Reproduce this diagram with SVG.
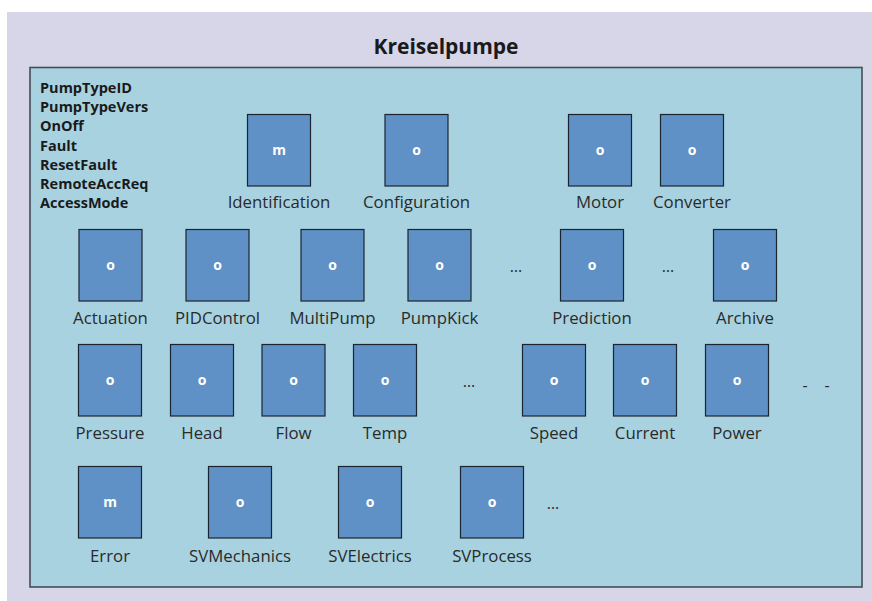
<svg xmlns="http://www.w3.org/2000/svg" width="872" height="601" viewBox="0 0 872 601">
<style>
.box{fill:#5f91c6;stroke:#1c2430;stroke-width:1.2}
.ltr{font-family:"Open Sans","Liberation Sans",sans-serif;font-weight:bold;font-size:14px;fill:#ffffff;text-anchor:middle}
.lbl{font-family:"Open Sans","Liberation Sans",sans-serif;font-size:16.8px;fill:#2a2a2a;text-anchor:middle}
.attr{font-family:"Open Sans","Liberation Sans",sans-serif;font-weight:bold;font-size:14.5px;fill:#1a1a1a}
.dots{font-family:"Open Sans","Liberation Sans",sans-serif;font-size:16px;fill:#2a2a2a;text-anchor:middle}
</style>
<rect x="0" y="0" width="872" height="601" fill="#ffffff"/>
<rect x="7" y="12" width="865" height="589" fill="#d7d5e8"/>
<text x="446" y="54" font-family="'Open Sans','Liberation Sans',sans-serif" font-weight="bold" font-size="21" fill="#1a1a1a" text-anchor="middle">Kreiselpumpe</text>
<rect id="container" x="30" y="67.5" width="832" height="519.5" fill="#a8d2e0" stroke="#474d58" stroke-width="1.6"/>
<g id="attributes" class="attr">
<text x="40" y="93">PumpTypeID</text>
<text x="40" y="112">PumpTypeVers</text>
<text x="40" y="131">OnOff</text>
<text x="40" y="150.5">Fault</text>
<text x="40" y="169.5">ResetFault</text>
<text x="40" y="188.5">RemoteAccReq</text>
<text x="40" y="208">AccessMode</text>
</g>
<g id="connectors"></g>
<!-- Row 1 -->
<g id="n-identification"><rect class="box" x="247.5" y="114.5" width="63" height="71.5"/><text class="ltr" x="279" y="155">m</text><text class="lbl" x="279" y="208">Identification</text></g>
<g id="n-configuration"><rect class="box" x="385" y="114.5" width="63" height="71.5"/><text class="ltr" x="416.5" y="155">o</text><text class="lbl" x="416.5" y="208">Configuration</text></g>
<g id="n-motor"><rect class="box" x="568.5" y="114.5" width="63" height="71.5"/><text class="ltr" x="600" y="155">o</text><text class="lbl" x="600" y="208">Motor</text></g>
<g id="n-converter"><rect class="box" x="660.5" y="114.5" width="63" height="71.5"/><text class="ltr" x="692" y="155">o</text><text class="lbl" x="692" y="208">Converter</text></g>
<!-- Row 2 -->
<g id="n-actuation"><rect class="box" x="79" y="229.5" width="63" height="71.5"/><text class="ltr" x="110.5" y="270">o</text><text class="lbl" x="110.5" y="323.5">Actuation</text></g>
<g id="n-pidcontrol"><rect class="box" x="186" y="229.5" width="63" height="71.5"/><text class="ltr" x="217.5" y="270">o</text><text class="lbl" x="217.5" y="323.5">PIDControl</text></g>
<g id="n-multipump"><rect class="box" x="301" y="229.5" width="63" height="71.5"/><text class="ltr" x="332.5" y="270">o</text><text class="lbl" x="332.5" y="323.5">MultiPump</text></g>
<g id="n-pumpkick"><rect class="box" x="408" y="229.5" width="63" height="71.5"/><text class="ltr" x="439.5" y="270">o</text><text class="lbl" x="439.5" y="323.5">PumpKick</text></g>
<text class="dots" x="516" y="272">…</text>
<g id="n-prediction"><rect class="box" x="560.5" y="229.5" width="63" height="71.5"/><text class="ltr" x="592" y="270">o</text><text class="lbl" x="592" y="323.5">Prediction</text></g>
<text class="dots" x="668" y="272">…</text>
<g id="n-archive"><rect class="box" x="713.5" y="229.5" width="63" height="71.5"/><text class="ltr" x="745" y="270">o</text><text class="lbl" x="745" y="323.5">Archive</text></g>
<!-- Row 3 -->
<g id="n-pressure"><rect class="box" x="78.5" y="344.5" width="63" height="71.5"/><text class="ltr" x="110" y="385">o</text><text class="lbl" x="110" y="438.5">Pressure</text></g>
<g id="n-head"><rect class="box" x="170.5" y="344.5" width="63" height="71.5"/><text class="ltr" x="202" y="385">o</text><text class="lbl" x="202" y="438.5">Head</text></g>
<g id="n-flow"><rect class="box" x="262" y="344.5" width="63" height="71.5"/><text class="ltr" x="293.5" y="385">o</text><text class="lbl" x="293.5" y="438.5">Flow</text></g>
<g id="n-temp"><rect class="box" x="353.5" y="344.5" width="63" height="71.5"/><text class="ltr" x="385" y="385">o</text><text class="lbl" x="385" y="438.5">Temp</text></g>
<text class="dots" x="469" y="387">…</text>
<g id="n-speed"><rect class="box" x="522.5" y="344.5" width="63" height="71.5"/><text class="ltr" x="554" y="385">o</text><text class="lbl" x="554" y="438.5">Speed</text></g>
<g id="n-current"><rect class="box" x="613.5" y="344.5" width="63" height="71.5"/><text class="ltr" x="645" y="385">o</text><text class="lbl" x="645" y="438.5">Current</text></g>
<g id="n-power"><rect class="box" x="705.5" y="344.5" width="63" height="71.5"/><text class="ltr" x="737" y="385">o</text><text class="lbl" x="737" y="438.5">Power</text></g>
<text class="dots" x="805" y="391">-</text>
<text class="dots" x="827" y="391">-</text>
<!-- Row 4 -->
<g id="n-error"><rect class="box" x="78.5" y="466.5" width="63" height="71.5"/><text class="ltr" x="110" y="507">m</text><text class="lbl" x="110" y="561.5">Error</text></g>
<g id="n-svmechanics"><rect class="box" x="208.5" y="466.5" width="63" height="71.5"/><text class="ltr" x="240" y="507">o</text><text class="lbl" x="240" y="561.5">SVMechanics</text></g>
<g id="n-svelectrics"><rect class="box" x="338.5" y="466.5" width="63" height="71.5"/><text class="ltr" x="370" y="507">o</text><text class="lbl" x="370" y="561.5">SVElectrics</text></g>
<g id="n-svprocess"><rect class="box" x="460.5" y="466.5" width="63" height="71.5"/><text class="ltr" x="492" y="507">o</text><text class="lbl" x="492" y="561.5">SVProcess</text></g>
<text class="dots" x="553" y="509">…</text>
</svg>
